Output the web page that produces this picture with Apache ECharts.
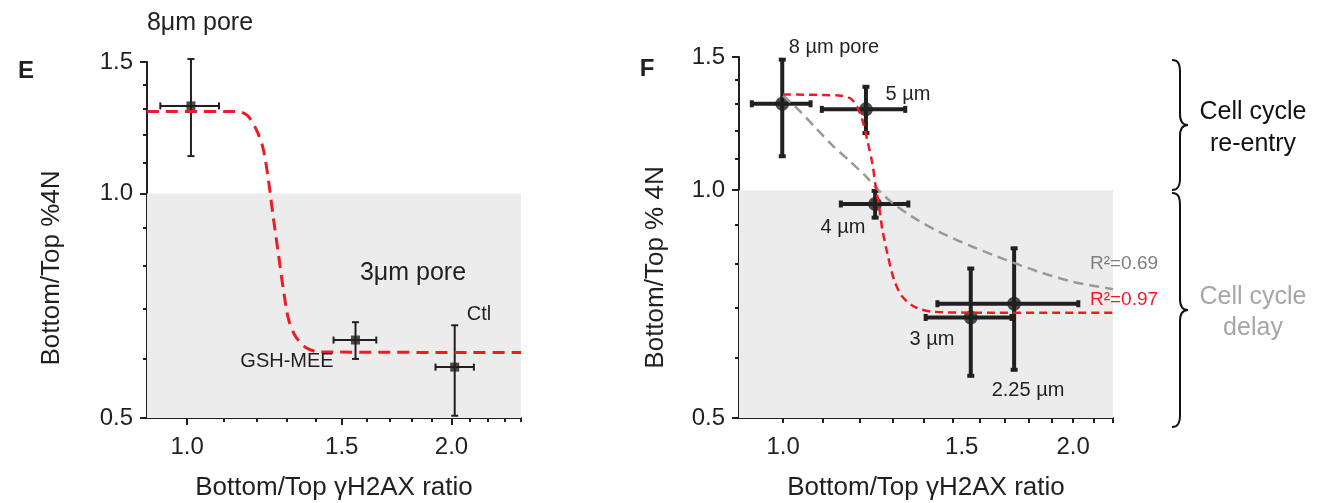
<!DOCTYPE html>
<html>
<head>
<meta charset="utf-8">
<script src="https://cdn.jsdelivr.net/npm/echarts@6/dist/echarts.min.js"></script>
<style>
  html, body { margin: 0; background: #fff; }
  #chart { width: 1329px; height: 503px; }
</style>
</head>
<body>
<div id="chart"></div>
<script>
// ---- panel E (8um vs 3um pore, GSH-MEE, Ctl) ----
const ePoints = [[1.01, 1.31], [1.555, 0.636], [2.017, 0.585]]
const eXErr = [[0.932, 1.087], [1.468, 1.642], [1.918, 2.121]]
const eYErr = [[1.122, 1.514], [0.600, 0.672], [0.5035, 0.6656]]
const eFit = [
  [0.9, 1.288], [1.138, 1.288], [1.170, 1.273], [1.197, 1.222], [1.219, 1.155],
  [1.236, 1.053], [1.253, 0.931], [1.270, 0.831], [1.287, 0.743], [1.305, 0.677],
  [1.329, 0.643], [1.366, 0.621], [1.417, 0.613], [2.4, 0.612],
]

// ---- panel F (pore sizes) ----
const fPoints = [[0.998, 1.301], [1.219, 1.279], [1.246, 0.959], [1.566, 0.679], [1.737, 0.708]]
const fXErr = [[0.928, 1.068], [1.097, 1.339], [1.148, 1.349], [1.406, 1.726], [1.446, 2.025]]
const fYErr = [[1.109, 1.488], [1.19, 1.37], [0.92, 0.998], [0.5685, 0.788], [0.579, 0.838]]
const fSigmoid = [
  [1.0, 1.338], [1.143, 1.334], [1.176, 1.321], [1.194, 1.288], [1.209, 1.237],
  [1.223, 1.164], [1.238, 1.084], [1.248, 1.01], [1.258, 0.951], [1.268, 0.886],
  [1.283, 0.825], [1.304, 0.761], [1.33, 0.723], [1.373, 0.70], [1.429, 0.691],
  [1.572, 0.689], [2.2, 0.689],
]
const fPower = [
  [1.0, 1.334], [1.039, 1.275], [1.081, 1.209], [1.125, 1.146], [1.171, 1.095],
  [1.219, 1.043], [1.258, 0.998], [1.299, 0.962], [1.362, 0.922], [1.452, 0.881],
  [1.572, 0.842], [1.703, 0.809], [1.844, 0.780], [1.997, 0.757], [2.2, 0.740],
]

// ticks
const majorX = [1.0, 1.5, 2.0]
const minorXE = [1.1, 1.2, 1.3, 1.4, 1.6, 1.7, 1.8, 1.9, 2.1, 2.2, 2.3, 2.4]
const tickXF = [1.0, 1.1, 1.2, 1.3, 1.4, 1.5, 1.6, 1.7, 1.8, 1.9, 2.0, 2.1, 2.2]
const majorY = [0.5, 1.0, 1.5]
const minorY = [0.6, 0.7, 0.8, 0.9, 1.1, 1.2, 1.3, 1.4]

const ink = '#231f20'
const red = '#ec1c24'
const font = "'Liberation Sans', Arial, Helvetica, sans-serif"

const chart = echarts.init(document.getElementById('chart'), null, { renderer: 'canvas' })

const withErr = (pts, xe, ye) => pts.map((p, i) => [p[0], p[1], xe[i][0], xe[i][1], ye[i][0], ye[i][1]])

// cross-shaped error bars with end caps
const errorBars = (lineWidth, cap) => (params, api) => {
  const x = api.value(0), y = api.value(1)
  const l = api.coord([api.value(2), y]), r = api.coord([api.value(3), y])
  const b = api.coord([x, api.value(4)]), t = api.coord([x, api.value(5)])
  const style = { stroke: ink, lineWidth, fill: null }
  const seg = (x1, y1, x2, y2) => ({ type: 'line', shape: { x1, y1, x2, y2 }, style })
  return {
    type: 'group',
    children: [
      seg(l[0], l[1], r[0], r[1]),
      seg(b[0], b[1], t[0], t[1]),
      seg(l[0], l[1] - cap, l[0], l[1] + cap),
      seg(r[0], r[1] - cap, r[0], r[1] + cap),
      seg(b[0] - cap, b[1], b[0] + cap, b[1]),
      seg(t[0] - cap, t[1], t[0] + cap, t[1]),
    ],
  }
}

const tickLabel = { fontSize: 24, color: ink, fontFamily: font }
const nameStyle = { fontSize: 26, color: ink, fontFamily: font }

const xAxisPair = (grid, max, minorTicks, minorLen, majorLen, name, labelRich) => [
  {
    gridIndex: grid, type: 'log', min: 0.9, max, position: 'bottom',
    axisLine: { lineStyle: { color: ink, width: 2 } },
    axisTick: { customValues: minorTicks, length: minorLen, lineStyle: { color: ink, width: 2 } },
    axisLabel: { show: false },
    splitLine: { show: false },
  },
  {
    gridIndex: grid, type: 'log', min: 0.9, max, position: 'bottom',
    axisLine: { show: false },
    axisTick: { customValues: majorX, length: majorLen, lineStyle: { color: ink, width: 2 } },
    axisLabel: {
      customValues: majorX, margin: 17, ...tickLabel,
      formatter: (v) => (labelRich && v === 1.5 ? '{s|1.5}' : v.toFixed(1)),
      rich: { s: { ...tickLabel, padding: [0, 0, 0, 18] } },
    },
    splitLine: { show: false },
    name, nameLocation: 'middle', nameGap: 57, nameTextStyle: nameStyle,
  },
]

const yAxisPair = (grid, name, gap, shift) => [
  {
    gridIndex: grid, type: 'log', min: 0.5, max: 1.5, position: 'left',
    axisLine: { lineStyle: { color: ink, width: 2 } },
    axisTick: { customValues: minorY, length: 4, lineStyle: { color: ink, width: 2 } },
    axisLabel: { show: false },
    splitLine: { show: false },
  },
  {
    gridIndex: grid, type: 'log', min: 0.5, max: 1.5, position: 'left',
    axisLine: { show: false },
    axisTick: { customValues: majorY, length: 7, lineStyle: { color: ink, width: 2 } },
    axisLabel: { customValues: majorY, margin: 14, ...tickLabel, formatter: (v) => v.toFixed(1) },
    splitLine: { show: false },
    name, nameLocation: 'middle', nameRotate: 90, nameGap: gap,
    nameTextStyle: { ...nameStyle, padding: [0, shift, 0, 0] },
  },
]

const text = (x, y, t, extra) => ({
  type: 'text', x, y, z: 100,
  style: { text: t, fontSize: 20, fontFamily: font, fill: ink, align: 'center', verticalAlign: 'middle', ...extra },
})

// curly brace drawn from lines and bezier curves: top, tip and bottom y
const brace = (top, tip, bottom) => {
  const stroke = { stroke: '#111', lineWidth: 2, fill: null }
  const bez = (x1, y1, cpx1, cpy1, cpx2, cpy2, x2, y2) =>
    ({ type: 'bezierCurve', z: 100, shape: { x1, y1, cpx1, cpy1, cpx2, cpy2, x2, y2 }, style: stroke })
  const ln = (x1, y1, x2, y2) => ({ type: 'line', z: 100, shape: { x1, y1, x2, y2 }, style: stroke })
  return [
    bez(1172, top, 1179, top, 1180, top + 5, 1180, top + 13),
    ln(1180, top + 13, 1180, tip - 11),
    bez(1180, tip - 11, 1180, tip - 4, 1182, tip, 1188, tip),
    bez(1188, tip, 1182, tip, 1180, tip + 4, 1180, tip + 11),
    ln(1180, tip + 11, 1180, bottom - 12),
    bez(1180, bottom - 12, 1180, bottom - 4, 1178, bottom, 1172, bottom),
  ]
}

const option = {
  animation: false,
  backgroundColor: '#fff',
  grid: [
    { left: 147, top: 62, width: 374, height: 356, outerBoundsMode: 'none' },
    { left: 739, top: 57, width: 374, height: 361, outerBoundsMode: 'none' },
  ],
  xAxis: [
    ...xAxisPair(0, 2.4, minorXE, 4, 7, 'Bottom/Top γH2AX ratio', false),
    ...xAxisPair(1, 2.2, tickXF, 5, 5, 'Bottom/Top γH2AX ratio', true),
  ],
  yAxis: [
    ...yAxisPair(0, 'Bottom/Top %4N', 82, 56),
    ...yAxisPair(1, 'Bottom/Top % 4N', 70, 60),
  ],
  series: [
    // grey "cell cycle delay" zones
    {
      type: 'line', xAxisIndex: 0, yAxisIndex: 0, data: [], z: 0, silent: true,
      markArea: { silent: true, itemStyle: { color: '#ececec' }, data: [[{ yAxis: 0.5 }, { yAxis: 1.0 }]] },
    },
    {
      type: 'line', xAxisIndex: 2, yAxisIndex: 2, data: [], z: 0, silent: true,
      markArea: { silent: true, itemStyle: { color: '#ececec' }, data: [[{ yAxis: 0.5 }, { yAxis: 1.0 }]] },
    },
    {
      type: 'custom', xAxisIndex: 0, yAxisIndex: 0, z: 3,
      renderItem: errorBars(2, 3.5), data: withErr(ePoints, eXErr, eYErr),
    },
    {
      type: 'scatter', xAxisIndex: 0, yAxisIndex: 0, z: 4,
      symbol: 'rect', symbolSize: 9, itemStyle: { color: ink }, data: ePoints,
    },
    {
      type: 'line', xAxisIndex: 0, yAxisIndex: 0, z: 5, data: eFit,
      smooth: 0.3, symbol: 'none',
      lineStyle: { color: red, width: 3, type: [12, 7] },
    },
    {
      type: 'custom', xAxisIndex: 2, yAxisIndex: 2, z: 3,
      renderItem: errorBars(4, 3.5), data: withErr(fPoints, fXErr, fYErr),
    },
    {
      type: 'scatter', xAxisIndex: 2, yAxisIndex: 2, z: 4,
      symbol: 'circle', symbolSize: 14, itemStyle: { color: ink }, data: fPoints,
    },
    {
      type: 'line', xAxisIndex: 2, yAxisIndex: 2, z: 5, data: fPower,
      smooth: 0.3, symbol: 'none',
      lineStyle: { color: '#999', width: 2.5, type: [10, 6] },
    },
    {
      type: 'line', xAxisIndex: 2, yAxisIndex: 2, z: 6, data: fSigmoid,
      smooth: 0.3, symbol: 'none',
      lineStyle: { color: red, width: 2.5, type: [8, 5] },
    },
  ],
  graphic: [
    text(26, 71, 'E', { fontSize: 24, fontWeight: 'bold' }),
    text(200, 23, '8μm pore', { fontSize: 25 }),
    text(413, 273, '3μm pore', { fontSize: 25 }),
    text(479, 314, 'Ctl'),
    text(287, 361, 'GSH-MEE'),

    text(647, 69, 'F', { fontSize: 24, fontWeight: 'bold' }),
    text(834, 47, '8 µm pore'),
    text(908, 94, '5 µm'),
    text(843, 227, '4 µm'),
    text(932, 339, '3 µm'),
    text(1028, 390, '2.25 µm'),
    text(1124, 264, 'R²=0.69', { fill: '#7f7f7f', fontSize: 19 }),
    text(1124, 300, 'R²=0.97', { fill: red, fontSize: 19 }),

    ...brace(60, 125, 190),
    ...brace(193, 310, 427),
    text(1253, 112, 'Cell cycle', { fontSize: 25, fill: '#111' }),
    text(1253, 144, 're-entry', { fontSize: 25, fill: '#111' }),
    text(1253, 297, 'Cell cycle', { fontSize: 25, fill: '#a6a6a6' }),
    text(1253, 328, 'delay', { fontSize: 25, fill: '#a6a6a6' }),
  ],
}

chart.setOption(option)
</script>
</body>
</html>
